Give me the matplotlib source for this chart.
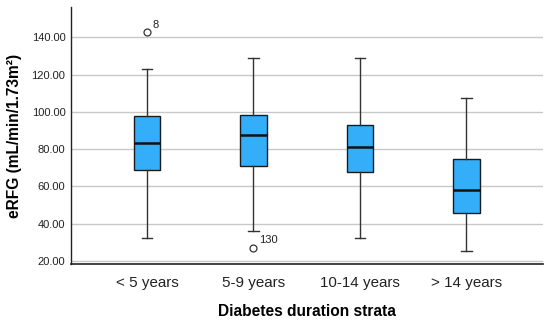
import matplotlib
matplotlib.use("Agg")
import matplotlib.pyplot as plt

categories = ["< 5 years", "5-9 years", "10-14 years", "> 14 years"]
whislo = [32.3, 36.0, 32.3, 25.1]
q1 = [68.6, 70.9, 67.7, 45.9]
med = [83.1, 87.6, 81.3, 58.2]
q3 = [97.8, 98.1, 92.9, 74.5]
whishi = [122.8, 128.7, 128.7, 107.3]
outliers = [[142.7], [27.1], [], []]
outlier_labels = [["8"], ["130"], [], []]
yticks = [20, 40, 60, 80, 100, 120, 140]

plt.rcParams['font.family'] = ['Liberation Sans', 'DejaVu Sans']

fig = plt.figure(figsize=(5.5, 3.24), dpi=100)
ax = fig.add_axes([71/550, 1 - 264/324, (543 - 71)/550, (264 - 7)/324])

stats = []
for i, c in enumerate(categories):
    stats.append(dict(label=c, whislo=whislo[i], q1=q1[i], med=med[i],
                      q3=q3[i], whishi=whishi[i], fliers=outliers[i]))

pos = list(range(1, len(categories) + 1))
ax.bxp(stats, positions=pos, widths=0.25, patch_artist=True,
       boxprops=dict(facecolor='#35AEFA', edgecolor='#1a1a1a', linewidth=1.0),
       medianprops=dict(color='#111111', linewidth=1.8),
       whiskerprops=dict(color='#333333', linewidth=1.0),
       capprops=dict(color='#333333', linewidth=1.0),
       flierprops=dict(marker='o', markerfacecolor='white', markeredgecolor='#333333',
                       markersize=5, markeredgewidth=0.9),
       capwidths=0.1, zorder=3)

for i, (vals, labs) in enumerate(zip(outliers, outlier_labels)):
    for v, l in zip(vals, labs):
        ax.annotate(l, (pos[i], v), xytext=(4, 3), textcoords='offset points',
                    fontsize=8, color='#222222')

ax.set_xlim(0.286, 4.72)
ax.set_ylim(18.3, 156.3)
ax.set_yticks(yticks)
ax.set_yticklabels([f"{t:.2f}" for t in yticks], fontsize=8)
ax.set_xticks(pos)
ax.set_xticklabels(categories, fontsize=10.9)
ax.tick_params(axis='both', length=0, colors='#222222')
ax.tick_params(axis='x', pad=9)
ax.tick_params(axis='y', pad=4)
ax.grid(axis='y', color='#c8c8c8', linewidth=1.0, zorder=0)
ax.set_axisbelow(True)
for s in ['top', 'right']:
    ax.spines[s].set_visible(False)
ax.spines['left'].set_color('#222222')
ax.spines['bottom'].set_color('#222222')
ax.spines['left'].set_linewidth(1.0)
ax.spines['bottom'].set_linewidth(1.2)

ax.set_ylabel("eRFG (mL/min/1.73m²)", fontsize=11.2, fontweight='bold', labelpad=7)
ax.set_xlabel("Diabetes duration strata", fontsize=11.2, fontweight='bold', labelpad=10)

fig.savefig("out.png", dpi=100)
